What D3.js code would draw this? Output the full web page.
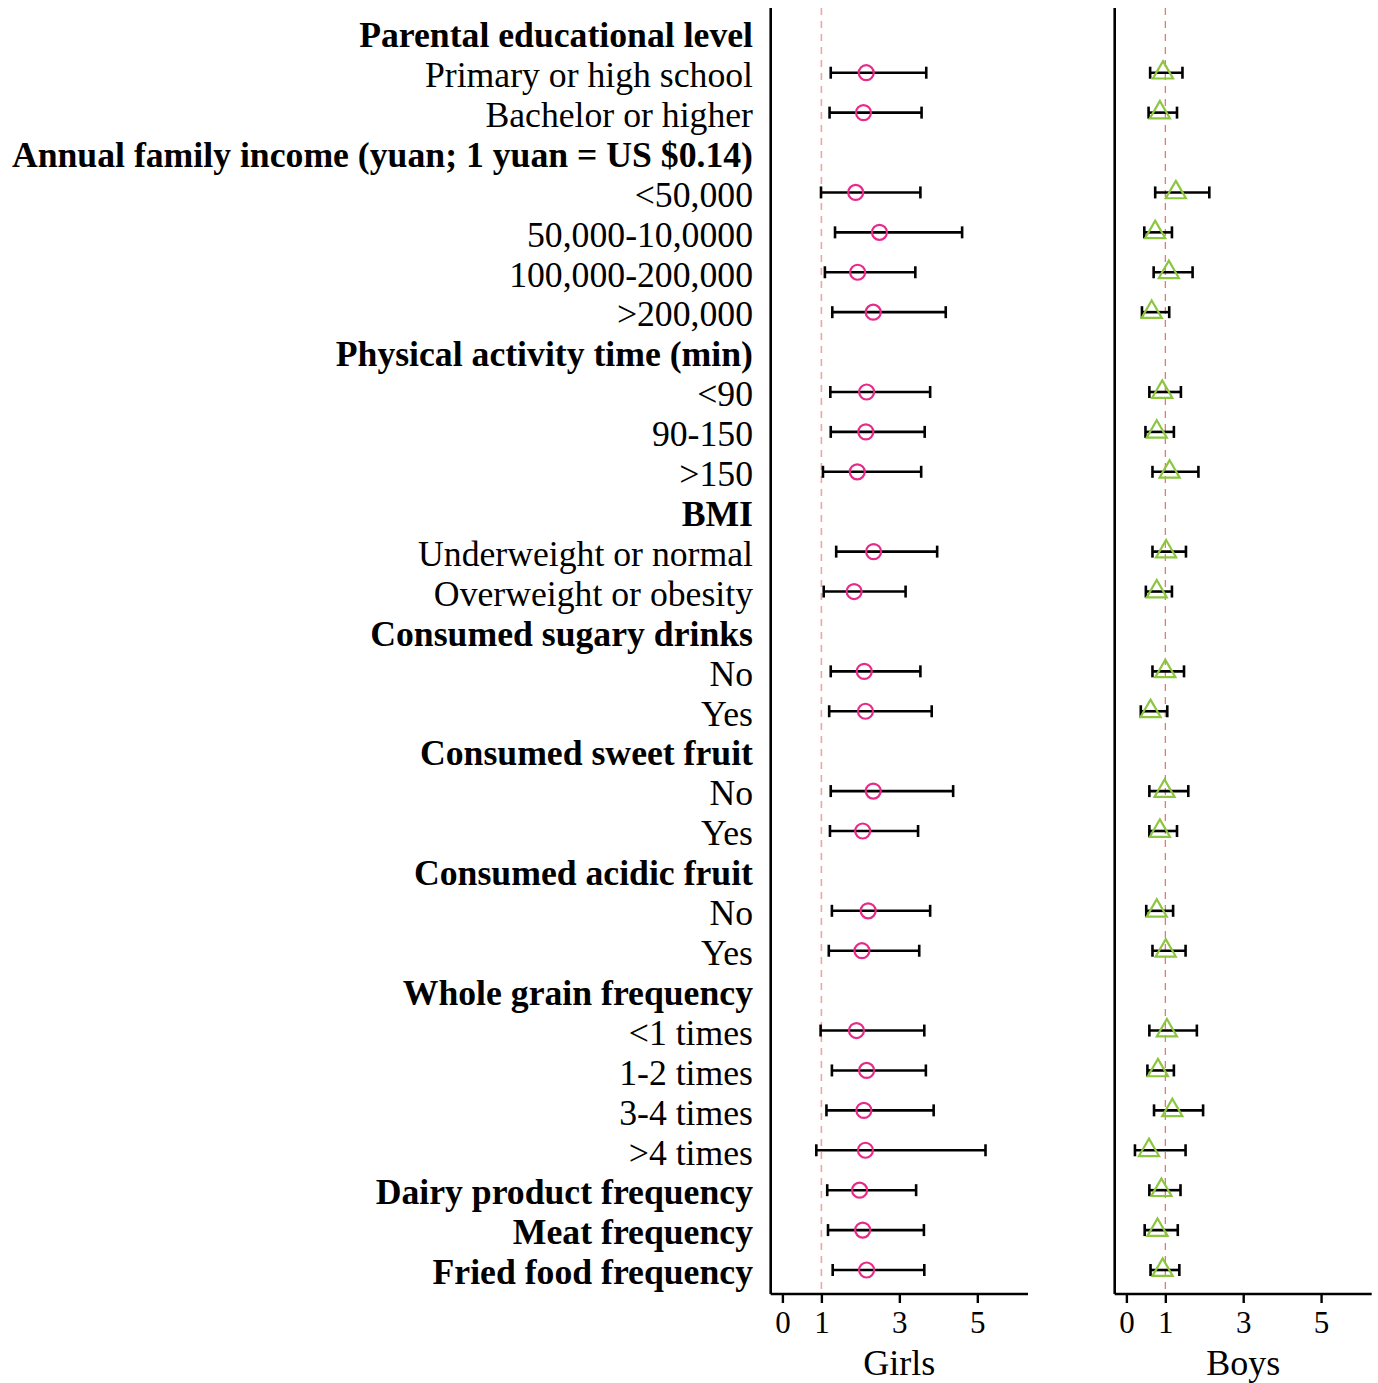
<!DOCTYPE html>
<html><head><meta charset="utf-8">
<script src="https://cdn.jsdelivr.net/npm/d3@7"></script>
<style>html,body{margin:0;padding:0;background:#fff;}</style>
</head><body>
<script>
const labels = ["Parental educational level","Primary or high school","Bachelor or higher",
"Annual family income (yuan; 1 yuan = US $0.14)","<50,000","50,000-10,0000","100,000-200,000",">200,000",
"Physical activity time (min)","<90","90-150",">150",
"BMI","Underweight or normal","Overweight or obesity",
"Consumed sugary drinks","No","Yes",
"Consumed sweet fruit","No","Yes",
"Consumed acidic fruit","No","Yes",
"Whole grain frequency","<1 times","1-2 times","3-4 times",">4 times",
"Dairy product frequency","Meat frequency","Fried food frequency"];
const bold = [1,0,0,1,0,0,0,0,1,0,0,0,1,0,0,1,0,0,1,0,0,1,0,0,1,0,0,0,0,1,1,1];

const girlsOR = [null,2.15,2.08,null,1.88,2.49,1.93,2.33,null,2.16,2.14,1.92,null,2.34,1.84,null,2.10,2.13,null,2.33,2.06,null,2.20,2.04,null,1.90,2.16,2.09,2.13,1.98,2.06,2.16];
const girlsLo = [null,1.24,1.21,null,0.99,1.35,1.09,1.28,null,1.23,1.24,1.04,null,1.38,1.06,null,1.24,1.20,null,1.24,1.22,null,1.27,1.19,null,0.98,1.27,1.13,0.87,1.15,1.17,1.29];
const girlsHi = [null,3.69,3.57,null,3.54,4.61,3.41,4.19,null,3.79,3.65,3.56,null,3.97,3.16,null,3.54,3.83,null,4.38,3.48,null,3.79,3.51,null,3.64,3.68,3.88,5.21,3.43,3.63,3.64];

const boysOR = [null,0.94,0.86,null,1.27,0.74,1.09,0.65,null,0.92,0.78,1.11,null,1.02,0.78,null,1.00,0.62,null,0.98,0.86,null,0.78,1.01,null,1.04,0.81,1.18,0.58,0.90,0.80,0.93];
const boysLo = [null,0.61,0.57,null,0.74,0.46,0.70,0.40,null,0.59,0.49,0.67,null,0.67,0.50,null,0.67,0.37,null,0.59,0.59,null,0.51,0.67,null,0.59,0.54,0.71,0.22,0.59,0.47,0.62];
const boysHi = [null,1.44,1.30,null,2.13,1.17,1.70,1.10,null,1.40,1.22,1.85,null,1.53,1.17,null,1.48,1.05,null,1.59,1.30,null,1.20,1.52,null,1.81,1.22,1.97,1.52,1.39,1.32,1.36];

const xTicks = [0,1,3,5];
const panelTitles = ["Girls","Boys"];

const W = 1378, H = 1383;
const svg = d3.select("body").append("svg").attr("width",W).attr("height",H);
const font = "'Liberation Serif','Times New Roman',serif";

const y = d3.scalePoint().domain(d3.range(labels.length)).range([32.8,1270]);

svg.append("g").selectAll("text").data(labels).join("text")
  .attr("x",753).attr("y",(d,i)=>y(i)).attr("dy","0.4em")
  .attr("text-anchor","end").attr("font-family",font).attr("font-size",35.7)
  .attr("font-weight",(d,i)=>bold[i]?"bold":"normal").attr("fill","#000")
  .text(d=>d);

const panels = [
  {x0:770.7,x1:1028,or:girlsOR,lo:girlsLo,hi:girlsHi,sym:"circle",title:panelTitles[0],refColor:"#f4a3a3",refW:1.6,refDash:"7,6"},
  {x0:1114.7,x1:1371.7,or:boysOR,lo:boysLo,hi:boysHi,sym:"tri",title:panelTitles[1],refColor:"#f06868",refW:1.2,refDash:"7,6"}
];
const yTop = 8, yBot = 1294;

panels.forEach(p=>{
  const x = d3.scaleLinear().domain([-0.3,6.3]).range([p.x0,p.x1]);
  const g = svg.append("g");
  g.append("line").attr("x1",x(1)).attr("x2",x(1)).attr("y1",yTop).attr("y2",yBot)
    .attr("stroke",p.refColor).attr("stroke-width",p.refW).attr("stroke-dasharray",p.refDash);
  const idx = d3.range(labels.length).filter(i=>p.or[i]!==null);
  const eb = g.append("g").attr("stroke","#000").attr("stroke-width",2.6);
  eb.selectAll("line.h").data(idx).join("line").attr("class","h")
    .attr("x1",i=>x(p.lo[i])).attr("x2",i=>x(p.hi[i])).attr("y1",i=>y(i)).attr("y2",i=>y(i));
  eb.selectAll("line.l").data(idx).join("line").attr("class","l")
    .attr("x1",i=>x(p.lo[i])).attr("x2",i=>x(p.lo[i])).attr("y1",i=>y(i)-6).attr("y2",i=>y(i)+6);
  eb.selectAll("line.r").data(idx).join("line").attr("class","r")
    .attr("x1",i=>x(p.hi[i])).attr("x2",i=>x(p.hi[i])).attr("y1",i=>y(i)-6).attr("y2",i=>y(i)+6);
  if(p.sym==="circle"){
    g.selectAll("circle").data(idx).join("circle")
      .attr("cx",i=>x(p.or[i])).attr("cy",i=>y(i)).attr("r",7.5)
      .attr("fill","none").attr("stroke","#e7298a").attr("stroke-width",2.2);
  } else {
    const tri = d3.symbol().type(d3.symbolTriangle).size(175);
    g.selectAll("path.tri").data(idx).join("path").attr("class","tri")
      .attr("transform",i=>`translate(${x(p.or[i])},${y(i)})`).attr("d",tri())
      .attr("fill","none").attr("stroke","#8cc63f").attr("stroke-width",2.2);
  }
  g.append("line").attr("x1",p.x0).attr("x2",p.x0).attr("y1",yTop).attr("y2",yBot)
    .attr("stroke","#000").attr("stroke-width",2.6);
  const ax = g.append("g").attr("transform",`translate(0,${yBot})`)
    .call(d3.axisBottom(x).tickValues(xTicks).tickFormat(d3.format("d")).tickSize(9).tickPadding(8).tickSizeOuter(0));
  ax.select(".domain").attr("stroke-width",2.6).attr("d",`M${p.x0},0H${p.x1}`);
  ax.selectAll(".tick line").attr("stroke-width",2.4);
  ax.selectAll(".tick text").attr("font-family",font).attr("font-size",31).attr("fill","#000");
  g.append("text").attr("x",x(3)).attr("y",1375).attr("text-anchor","middle")
    .attr("font-family",font).attr("font-size",36).attr("fill","#000").text(p.title);
});
</script>
</body></html>
